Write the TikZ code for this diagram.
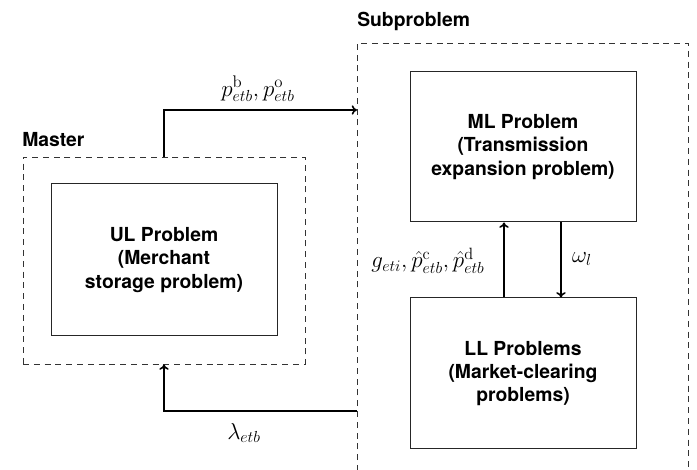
\documentclass[tikz,border=0pt]{standalone}
\usepackage{fontspec}
\newfontfamily\heros{TeX Gyre Heros}
\usetikzlibrary{arrows.meta,calc}
\begin{document}
\begin{tikzpicture}[x=0.75pt,y=-0.75pt,
  font=\fontsize{14.5}{17.5}\selectfont,
  probbox/.style={draw=black!85,line width=0.75pt,align=center,
    minimum width=169.5pt,font=\heros\bfseries\fontsize{14.5}{17.5}\selectfont,inner sep=0pt},
  dashbox/.style={draw=black!80,line width=0.65pt,dash pattern=on 4.5pt off 3.6pt},
  arr/.style={line width=1.2pt,-{To[length=4pt,width=7pt]}},
  grouplabel/.style={font=\heros\bfseries\fontsize{14.5}{17.5}\selectfont,anchor=base west,inner sep=0pt},
  lab/.style={inner sep=0pt,font=\fontsize{18}{21}\selectfont}
]
\useasboundingbox (0,0) rectangle (697,470);
% master group
\node[dashbox,minimum width=211.5pt,minimum height=155.25pt,inner sep=0pt] (master) at (164,260.5) {};
\node[grouplabel] (masterlab) at (22,147) {Master};
\node[probbox,minimum height=114pt] (UL) at (164,260) {UL Problem\\(Merchant\\storage problem)};
% subproblem group
\draw[dashbox] (357,471) |- (688,43) -- (688,471);
\node[grouplabel] (sublab) at (357,27) {Subproblem};
\node[probbox,minimum height=112.5pt] (ML) at (523,147) {ML Problem\\(Transmission\\expansion problem)};
\node[probbox,minimum height=113.25pt] (LL) at (523,373.5) {LL Problems\\(Market-clearing\\problems)};
% connector endpoints
\coordinate (subin) at (357,110);
\coordinate (subout) at (357,411);
\coordinate (upx) at (504,0);
\coordinate (downx) at (561,0);
% arrows
\draw[arr] (master.north) |- (subin);
\draw[arr] (subout) -| (master.south);
\draw[arr] (LL.north -| upx) -- (ML.south -| upx);
\draw[arr] (ML.south -| downx) -- (LL.north -| downx);
% labels
\node[lab] (plab) at (258,89) {$p^{\mathrm{b}}_{etb}, p^{\mathrm{o}}_{etb}$};
\node[lab] (llab) at (244,433) {$\lambda_{etb}$};
\node[lab,font=\fontsize{17.5}{21}\selectfont] (glab) at (428,261) {$g_{eti}, \hat{p}^{\mathrm{c}}_{etb}, \hat{p}^{\mathrm{d}}_{etb}$};
\node[lab] (wlab) at (582,259) {$\omega_l$};
\end{tikzpicture}
\end{document}
